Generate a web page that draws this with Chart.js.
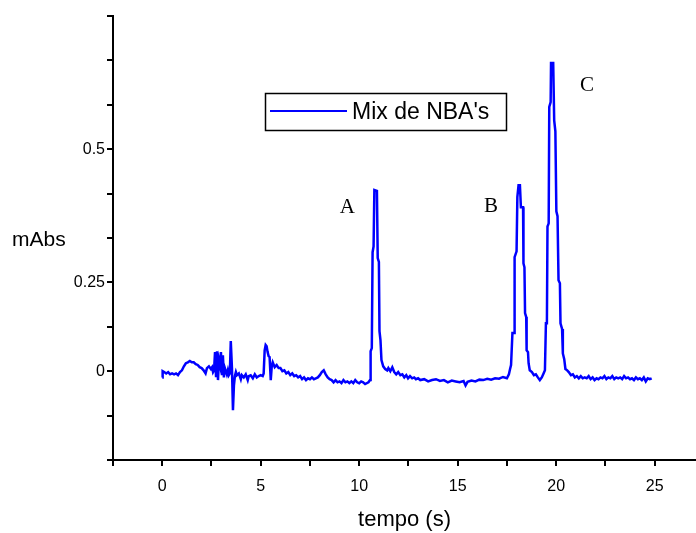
<!DOCTYPE html>
<html>
<head>
<meta charset="utf-8">
<script src="https://cdn.jsdelivr.net/npm/chart.js@4.4.1/dist/chart.umd.min.js"></script>
<style>
  html, body { margin: 0; padding: 0; background: #fff; }
  #wrap { width: 696px; height: 533px; }
</style>
</head>
<body>
<div id="wrap"><canvas id="chromChart" width="696" height="533"></canvas></div>
<script>
// retention time (s)
var timeValues = [
  0, 0.02, 0.1, 0.2, 0.3, 0.4, 0.5, 0.6, 0.7, 0.8, 0.9, 1.0, 1.1, 1.2, 1.3, 1.4, 1.5, 1.6, 1.7, 1.8,
  1.9, 2.0, 2.1, 2.2, 2.27, 2.37, 2.47, 2.53, 2.58, 2.63,
  2.68, 2.73, 2.78, 2.83, 2.88, 2.93, 2.98, 3.03, 3.08, 3.13, 3.18, 3.23, 3.28, 3.33, 3.38, 3.43,
  3.48, 3.54, 3.59, 3.64, 3.69, 3.74, 3.79,
  3.89, 3.99, 4.04, 4.14, 4.24, 4.34, 4.39, 4.49, 4.60, 4.70, 4.80, 4.90, 5.00, 5.10, 5.15, 5.20,
  5.25, 5.30, 5.35, 5.40, 5.45, 5.51, 5.56, 5.61, 5.71, 5.81, 5.91,
  6.0, 6.1, 6.2, 6.3, 6.4, 6.5, 6.6, 6.7, 6.8, 6.9, 7.0, 7.1, 7.2, 7.3, 7.4, 7.5, 7.6, 7.7, 7.8, 7.9,
  8.0, 8.1, 8.2, 8.3, 8.4, 8.5, 8.6, 8.7, 8.8, 8.9, 9.0, 9.1, 9.2, 9.3, 9.4, 9.5, 9.6, 9.7, 9.8, 9.9,
  10.0, 10.1, 10.2, 10.3,
  10.47, 10.55, 10.58, 10.64, 10.68, 10.73, 10.77, 10.90, 10.94, 11.00, 11.03, 11.08, 11.13, 11.22,
  11.32, 11.42,
  11.48, 11.58, 11.68, 11.78, 11.88, 11.98, 12.09, 12.19, 12.29, 12.39, 12.48, 12.58, 12.69, 12.79,
  12.88, 12.99, 13.1, 13.3, 13.5, 13.7, 13.9, 14.1, 14.3, 14.5, 14.7, 14.9, 15.1, 15.3, 15.4, 15.5,
  15.7, 15.9, 16.1, 16.3, 16.5, 16.7, 16.9, 17.1, 17.3, 17.5,
  17.60, 17.66, 17.71, 17.78, 17.86, 17.89, 17.99, 18.03, 18.09, 18.16, 18.21, 18.32, 18.34, 18.39,
  18.42, 18.48, 18.50, 18.57, 18.60, 18.66, 18.77, 18.87, 18.97, 19.07, 19.17, 19.27, 19.36,
  19.43, 19.48, 19.53, 19.56, 19.62, 19.65, 19.72, 19.74, 19.85, 19.90, 19.96, 20.01, 20.07, 20.12,
  20.19, 20.22, 20.30, 20.34, 20.41, 20.47, 20.56, 20.64,
  20.75, 20.85, 20.95, 21.05, 21.15, 21.25, 21.35, 21.45, 21.55, 21.65, 21.75, 21.85, 21.95, 22.05,
  22.15, 22.25, 22.35, 22.45, 22.55, 22.65, 22.75, 22.85, 22.95, 23.05, 23.15, 23.25, 23.35, 23.45,
  23.55, 23.65, 23.75, 23.85, 23.95, 24.05, 24.15, 24.25, 24.35, 24.45, 24.55, 24.65, 24.75, 24.85
];

// absorbance (mAbs)
var absValues = [
  -0.014, 0.000, -0.002, -0.005, -0.002, -0.007, -0.005, -0.007, -0.005, -0.009, -0.002, 0.002, 0.011, 0.018, 0.020, 0.023, 0.020, 0.020, 0.016, 0.014,
  0.009, 0.007, 0.002, -0.005, 0.007, 0.011, 0.005, 0.009, -0.002, 0.002,
  0.043, -0.011, 0.045, -0.020, 0.025, 0.014, 0.043, -0.009, 0.036, -0.014, 0.007, 0.000, -0.007, 0.002, -0.009, -0.005,
  0.068, 0.007, -0.088, -0.032, -0.011, -0.002, -0.009,
  -0.005, -0.018, -0.009, -0.014, -0.007, -0.020, -0.011, -0.009, -0.016, -0.007, -0.014, -0.011, -0.009, -0.011, -0.005, 0.047,
  0.059, 0.056, 0.043, 0.034, 0.032, -0.020, 0.011, 0.020, 0.009, 0.014, 0.007,
  0.007, 0.000, 0.002, -0.005, -0.002, -0.009, -0.005, -0.011, -0.009, -0.014, -0.011, -0.018, -0.014, -0.020, -0.016, -0.018, -0.014, -0.018, -0.016, -0.014,
  -0.009, -0.002, 0.002, -0.007, -0.014, -0.018, -0.020, -0.025, -0.020, -0.025, -0.023, -0.027, -0.020, -0.025, -0.023, -0.027, -0.023, -0.027, -0.020, -0.025,
  -0.027, -0.023, -0.025, -0.029,
  -0.025, -0.020, 0.045, 0.052, 0.268, 0.281, 0.408, 0.406, 0.255, 0.246, 0.090, 0.070, 0.025, 0.011,
  0.005, 0.002,
  0.007, 0.000, 0.009, -0.002, -0.007, -0.002, -0.009, -0.007, -0.014, -0.009, -0.016, -0.011, -0.016, -0.014,
  -0.018, -0.016, -0.020, -0.018, -0.023, -0.020, -0.018, -0.022, -0.020, -0.025, -0.021, -0.023, -0.025, -0.022, -0.032, -0.024,
  -0.021, -0.023, -0.019, -0.020, -0.017, -0.019, -0.016, -0.017, -0.013, -0.016,
  -0.007, 0.005, 0.014, 0.086, 0.086, 0.257, 0.270, 0.392, 0.419, 0.419, 0.369, 0.369, 0.243, 0.234,
  0.131, 0.122, 0.047, 0.043, 0.018, 0.002, -0.002, -0.009, -0.007, -0.014, -0.020, -0.014, -0.005,
  0.002, 0.108, 0.108, 0.326, 0.333, 0.595, 0.606, 0.694, 0.694, 0.565, 0.540, 0.360, 0.349, 0.205,
  0.198, 0.108, 0.095, 0.040, 0.027, 0.005, 0.002, -0.002,
  -0.009, -0.007, -0.014, -0.011, -0.016, -0.011, -0.016, -0.014, -0.016, -0.011, -0.018, -0.014, -0.020, -0.016,
  -0.018, -0.014, -0.016, -0.011, -0.018, -0.014, -0.016, -0.011, -0.018, -0.014, -0.016, -0.014, -0.018, -0.011,
  -0.016, -0.014, -0.018, -0.016, -0.020, -0.014, -0.018, -0.016, -0.020, -0.014, -0.023, -0.016, -0.018, -0.016
];

var seriesLabel = "Mix de NBA's";

// y tick labels as printed on the original figure
var yTickValues = [0, 0.2, 0.5];
var yTickLabels = ['0', '0.25', '0.5'];
var xLabelEvery = 5;

// peak letters
var peakNames = ['A', 'B', 'C'];
var peakTimes = [9.40, 16.69, 21.56];
var peakHeights = [0.369, 0.372, 0.644];

document.addEventListener('DOMContentLoaded', function () {
  var points = timeValues.map(function (t, i) { return { x: t, y: absValues[i] }; });

  var extras = {
    id: 'extras',
    afterDraw: function (chart) {
      var ctx = chart.ctx;
      var xs = chart.scales.x, ys = chart.scales.y;
      ctx.save();

      // horizontal y-axis label
      ctx.fillStyle = '#000';
      ctx.font = '21px "Liberation Sans", Arial, sans-serif';
      ctx.textAlign = 'left';
      ctx.textBaseline = 'middle';
      ctx.fillText('mAbs', 12, 240);

      // legend box
      ctx.strokeStyle = '#000';
      ctx.lineWidth = 1.5;
      ctx.strokeRect(265.5, 93.5, 241, 37);
      ctx.strokeStyle = '#0000ff';
      ctx.lineWidth = 2;
      ctx.beginPath();
      ctx.moveTo(270, 111);
      ctx.lineTo(347, 111);
      ctx.stroke();
      ctx.fillStyle = '#000';
      ctx.font = '23px "Liberation Sans", Arial, sans-serif';
      ctx.fillText(chart.data.datasets[0].label, 352, 113);

      // peak letters
      ctx.font = '21px "Liberation Serif", "Times New Roman", serif';
      ctx.textAlign = 'center';
      for (var i = 0; i < peakNames.length; i++) {
        ctx.fillText(peakNames[i], xs.getPixelForValue(peakTimes[i]), ys.getPixelForValue(peakHeights[i]));
      }
      ctx.restore();
    }
  };

  var ctx = document.getElementById('chromChart').getContext('2d');
  var chart = new Chart(ctx, {
    type: 'line',
    data: {
      datasets: [{
        label: seriesLabel,
        data: points,
        borderColor: '#0000ff',
        borderWidth: 2.5,
        pointRadius: 0,
        tension: 0,
        fill: false
      }]
    },
    options: {
      responsive: false,
      animation: false,
      layout: { padding: { top: 16, right: 0, left: 0, bottom: 0 } },
      plugins: {
        legend: { display: false },
        tooltip: { enabled: false }
      },
      scales: {
        x: {
          type: 'linear',
          min: -2.5,
          max: 27.1,
          afterFit: function (scale) { scale.height = 73; },
          border: { color: '#000', width: 2 },
          grid: { drawOnChartArea: false, drawTicks: true, tickLength: 6, color: '#000', lineWidth: 2 },
          ticks: {
            stepSize: 2.5,
            includeBounds: false,
            autoSkip: false,
            maxRotation: 0,
            padding: 11,
            color: '#000',
            font: { family: '"Liberation Sans", Arial, sans-serif', size: 16 },
            callback: function (value) {
              return Math.abs(value % xLabelEvery) < 1e-6 ? String(value) : '';
            }
          },
          title: {
            display: true,
            text: 'tempo (s)',
            color: '#000',
            padding: { top: 0, bottom: 0 },
            font: { family: '"Liberation Sans", Arial, sans-serif', size: 22 }
          }
        },
        y: {
          min: -0.2,
          max: 0.8,
          afterFit: function (scale) { scale.width = 113; },
          border: { color: '#000', width: 2 },
          grid: { drawOnChartArea: false, drawTicks: true, tickLength: 6, color: '#000', lineWidth: 2 },
          ticks: {
            stepSize: 0.1,
            autoSkip: false,
            padding: 2,
            color: '#000',
            font: { family: '"Liberation Sans", Arial, sans-serif', size: 16 },
            callback: function (value) {
              for (var i = 0; i < yTickValues.length; i++) {
                if (Math.abs(yTickValues[i] - value) < 1e-6) return yTickLabels[i];
              }
              return '';
            }
          }
        }
      }
    },
    plugins: [extras]
  });
});
</script>
</body>
</html>
